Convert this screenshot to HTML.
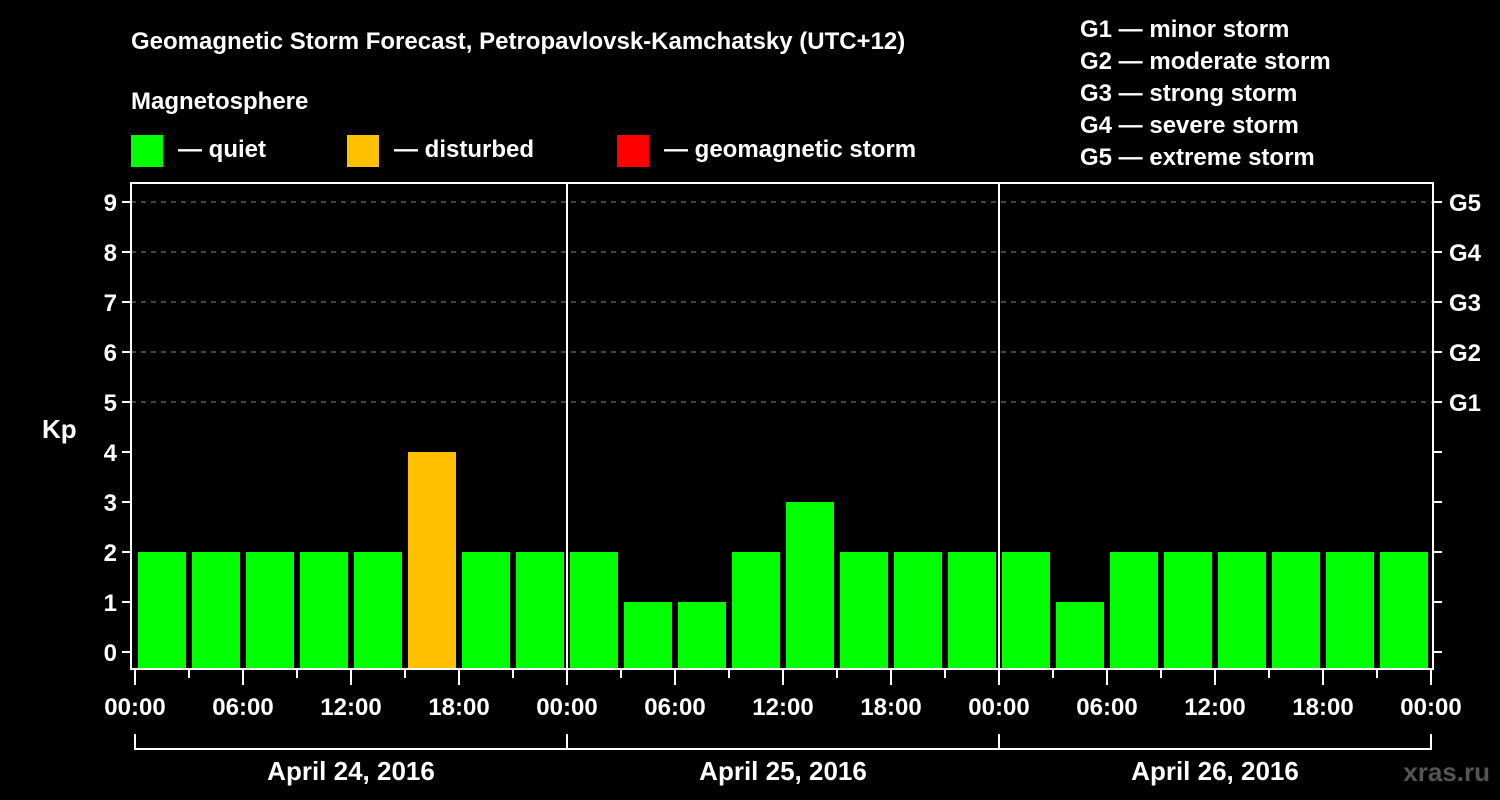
<!DOCTYPE html>
<html><head><meta charset="utf-8"><style>
body{margin:0;background:#000;width:1500px;height:800px;overflow:hidden}
svg{display:block;font-family:"Liberation Sans",Arial,sans-serif;font-weight:bold}
</style></head><body>
<svg id="chart" width="1500" height="800">
<text x="131" y="49" fill="#fff" font-size="24">Geomagnetic Storm Forecast, Petropavlovsk-Kamchatsky (UTC+12)</text>
<text x="131" y="109" fill="#fff" font-size="24">Magnetosphere</text>
<g><rect x="131" y="135" width="32" height="32" fill="#00ff00"/><text x="178" y="157" fill="#fff" font-size="24">— quiet</text></g>
<g><rect x="347" y="135" width="32" height="32" fill="#ffc000"/><text x="394" y="157" fill="#fff" font-size="24">— disturbed</text></g>
<g><rect x="617" y="135" width="32" height="32" fill="#ff0000"/><text x="664" y="157" fill="#fff" font-size="24">— geomagnetic storm</text></g>
<g fill="#fff" font-size="24">
<text x="1080" y="37">G1 — minor storm</text>
<text x="1080" y="69">G2 — moderate storm</text>
<text x="1080" y="101">G3 — strong storm</text>
<text x="1080" y="133">G4 — severe storm</text>
<text x="1080" y="165">G5 — extreme storm</text>
</g>
<text x="42" y="438" fill="#fff" font-size="26">Kp</text>
<text x="1490" y="781" fill="#555" font-size="26" text-anchor="end">xras.ru</text>
<g id="grid"></g><g id="bars"></g><g id="axes"></g>
</svg>
<script>
const kpValues=[2,2,2,2,2,4,2,2, 2,1,1,2,3,2,2,2, 2,1,2,2,2,2,2,2];
const dayLabels=["April 24, 2016","April 25, 2016","April 26, 2016"];
const timeLabels=["00:00","06:00","12:00","18:00"];
const yTicks=[0,1,2,3,4,5,6,7,8,9];
const gLabels=["G1","G2","G3","G4","G5"];
const NS="http://www.w3.org/2000/svg";
const X0=135,SLOT=54,L=131,R=1433,T=183,B=669;
const xs=i=>X0+i*SLOT;
const ys=v=>652-v*50;
function mk(tag,attrs,parent,txt){const e=document.createElementNS(NS,tag);for(const k in attrs)e.setAttribute(k,attrs[k]);if(txt!==undefined)e.textContent=txt;parent.appendChild(e);return e;}
const grid=document.getElementById('grid'),bars=document.getElementById('bars'),axes=document.getElementById('axes');
yTicks.forEach(v=>{
 if(v>=5){const g=mk('line',{x1:L,x2:R,y1:ys(v),y2:ys(v),stroke:'#888','stroke-dasharray':'5,5','stroke-width':1},grid);
 
 }
 const t=mk('line',{x1:L-9,x2:L,y1:ys(v),y2:ys(v),stroke:'#fff','stroke-width':2},axes);
 
 
 const t2=mk('line',{x1:R,x2:R+9,y1:ys(v),y2:ys(v),stroke:'#fff','stroke-width':2},axes);
 
 
 const l=mk('text',{x:L-14,y:ys(v)+9,fill:'#fff','font-size':24,'text-anchor':'end'},axes,String(v));
 
 
});
gLabels.forEach((g,i)=>{
 const l=mk('text',{x:1449,y:ys(5+i)+9,fill:'#fff','font-size':24},axes,g);
 
 
});
kpValues.forEach((v,i)=>{
 const c=v>=5?'#ff0000':(v>=4?'#ffc000':'#00ff00');
 const b=mk('rect',{x:xs(i)+3,y:ys(v),width:SLOT-6,height:B-ys(v),fill:c},bars);
 
 
});
const frame=mk('rect',{x:L,y:T,width:R-L,height:B-T,fill:'none',stroke:'#fff','stroke-width':2},axes);


for(let i=0;i<=kpValues.length;i++){
 const major=i%2===0;
 const t=mk('line',{x1:xs(i),x2:xs(i),y1:B,y2:B+(major?16:9),stroke:'#fff','stroke-width':2},axes);
 
 
 if(major){const l=mk('text',{x:xs(i),y:715,fill:'#fff','font-size':24,'text-anchor':'middle'},axes,timeLabels[(i/2)%4]);
 
 }
}
dayLabels.forEach((d,k)=>{
 const a=xs(k*8),b=xs(k*8+8);
 if(k>0){const dv=mk('line',{x1:a,x2:a,y1:T,y2:B,stroke:'#fff','stroke-width':2},axes);
 
 }
 const br=mk('path',{d:`M${a},734V749H${b}V734`,fill:'none',stroke:'#fff','stroke-width':2},axes);
 
 
 const l=mk('text',{x:(a+b)/2,y:780,fill:'#fff','font-size':26,'text-anchor':'middle'},axes,d);
 
 
});
</script>
</body></html>
